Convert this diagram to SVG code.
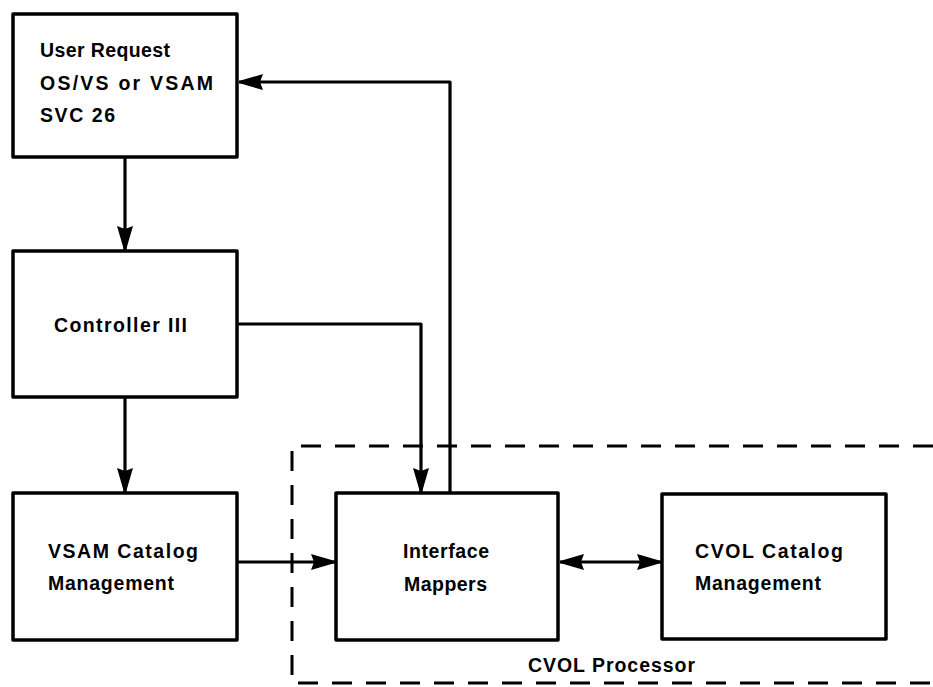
<svg xmlns="http://www.w3.org/2000/svg" width="933" height="687" viewBox="0 0 933 687">
<style>
.box{fill:#fff;stroke:#000;stroke-width:3.5;stroke-linejoin:round}
.lbl{font-family:"Liberation Sans",Arial,sans-serif;font-weight:bold;font-size:19.5px;fill:#000}
.con{fill:none;stroke:#000;stroke-width:3.2;stroke-linejoin:round}
.dash{fill:none;stroke:#000;stroke-width:3;stroke-dasharray:20 14}
</style>
<defs>
<marker id="ah" viewBox="0 0 24 18" refX="24" refY="9" markerWidth="24" markerHeight="18" markerUnits="userSpaceOnUse" orient="auto-start-reverse">
<path d="M0,1 L24,8 L24,10 L0,17 L3,9 z" fill="#000"/>
</marker>
</defs>
<rect width="933" height="687" fill="#fff"/>
<g id="cvol-processor">
<path class="dash" d="M933,446 L292,446 L292,683 L933,683"/>
<text class="lbl" x="528" y="672" textLength="167" lengthAdjust="spacing">CVOL Processor</text>
</g>
<g id="user-request">
<rect class="box" x="13" y="14" width="224" height="143"/>
<text class="lbl" x="40" y="57" textLength="130" lengthAdjust="spacing">User Request</text>
<text class="lbl" x="40" y="90" textLength="173" lengthAdjust="spacing">OS/VS or VSAM</text>
<text class="lbl" x="40" y="122" textLength="75" lengthAdjust="spacing">SVC 26</text>
</g>
<g id="controller">
<rect class="box" x="13" y="251" width="224" height="146"/>
<text class="lbl" x="54" y="332" textLength="133" lengthAdjust="spacing">Controller III</text>
</g>
<g id="vsam-catalog">
<rect class="box" x="13" y="493" width="224" height="147"/>
<text class="lbl" x="48" y="558" textLength="150" lengthAdjust="spacing">VSAM Catalog</text>
<text class="lbl" x="48" y="590" textLength="126" lengthAdjust="spacing">Management</text>
</g>
<g id="interface-mappers">
<rect class="box" x="336" y="493" width="222" height="147"/>
<text class="lbl" x="403" y="558" textLength="86" lengthAdjust="spacing">Interface</text>
<text class="lbl" x="404" y="591" textLength="83" lengthAdjust="spacing">Mappers</text>
</g>
<g id="cvol-catalog">
<rect class="box" x="662" y="494" width="224" height="145"/>
<text class="lbl" x="695" y="558" textLength="148" lengthAdjust="spacing">CVOL Catalog</text>
<text class="lbl" x="695" y="590" textLength="126" lengthAdjust="spacing">Management</text>
</g>
<g id="connectors">
<path class="con" d="M125,157 L125,250" marker-end="url(#ah)"/>
<path class="con" d="M125,397 L125,492" marker-end="url(#ah)"/>
<path class="con" d="M237,324 L421,324 L421,492" marker-end="url(#ah)"/>
<path class="con" d="M450,493 L450,82 L239,82" marker-end="url(#ah)"/>
<path class="con" d="M237,562 L335,562" marker-end="url(#ah)"/>
<path class="con" d="M560,562 L661,562" marker-start="url(#ah)" marker-end="url(#ah)"/>
</g>
</svg>
